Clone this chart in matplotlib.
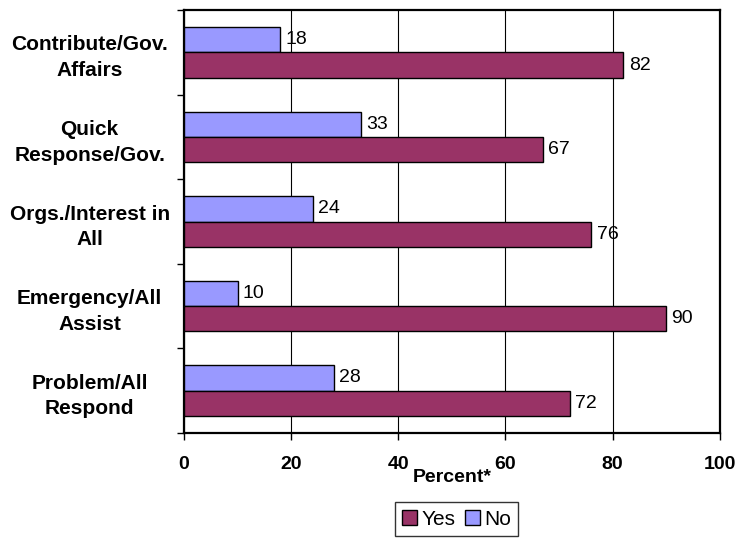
import numpy as np
import matplotlib.pyplot as plt
from matplotlib.patches import Patch

plt.rcParams['font.family'] = ['Liberation Sans', 'DejaVu Sans']

# --------------------------
# Data (top to bottom)
# --------------------------
categories = ['Contribute/Gov.\nAffairs', 'Quick\nResponse/Gov.',
              'Orgs./Interest in\nAll', 'Emergency/All\nAssist',
              'Problem/All\nRespond']
yes = [82, 67, 76, 90, 72]
no = [18, 33, 24, 10, 28]

yes_color = '#993366'
no_color = '#9999FF'

fig = plt.figure(figsize=(7.39, 5.39), dpi=100)
ax = fig.add_axes([0.249, 0.197, 0.725, 0.784])

n = len(categories)
pos = np.arange(n)[::-1].astype(float)  # top category at highest y
h = 0.3

ax.barh(pos + h / 2, no, height=h, color=no_color, edgecolor='black', linewidth=1, zorder=3)
ax.barh(pos - h / 2, yes, height=h, color=yes_color, edgecolor='black', linewidth=1, zorder=3)

for p, v in zip(pos, no):
    ax.text(v + 1, p + h / 2, str(v), va='center', ha='left', fontsize=14, zorder=4)
for p, v in zip(pos, yes):
    ax.text(v + 1, p - h / 2, str(v), va='center', ha='left', fontsize=14, zorder=4)

ax.set_xlim(0, 100)
ax.set_ylim(-0.5, n - 0.5)
ax.set_xticks([0, 20, 40, 60, 80, 100])
ax.set_xticklabels(['0', '20', '40', '60', '80', '100'], fontsize=14, fontweight='bold')
ax.xaxis.grid(True, color='black', linewidth=0.8, zorder=0)
ax.tick_params(axis='x', direction='out', length=5, width=1, pad=12)

# category labels at band centers, ticks at band boundaries
ax.set_yticks(pos)
ax.set_yticklabels(categories, fontsize=15, fontweight='bold', ha='center', linespacing=1.45)
ax.tick_params(axis='y', which='major', length=0, pad=68)
ax.set_yticks(np.arange(n + 1) - 0.5, minor=True)
ax.tick_params(axis='y', which='minor', direction='out', length=5, width=1)

for s in ['top', 'right', 'left', 'bottom']:
    ax.spines[s].set_linewidth(1.6)

ax.set_xlabel('Percent*', fontsize=14, fontweight='bold', labelpad=-3)

handles = [Patch(facecolor=yes_color, edgecolor='black', label='Yes'),
           Patch(facecolor=no_color, edgecolor='black', label='No')]
fig.legend(handles=handles, loc='lower center', bbox_to_anchor=(0.618, 0.0),
           ncol=2, fontsize=15, frameon=True, fancybox=False, edgecolor='black',
           handlelength=0.7, handleheight=0.7, handletextpad=0.2, columnspacing=0.5,
           borderpad=0.35, borderaxespad=0.15)

fig.savefig('out.png', dpi=100)
